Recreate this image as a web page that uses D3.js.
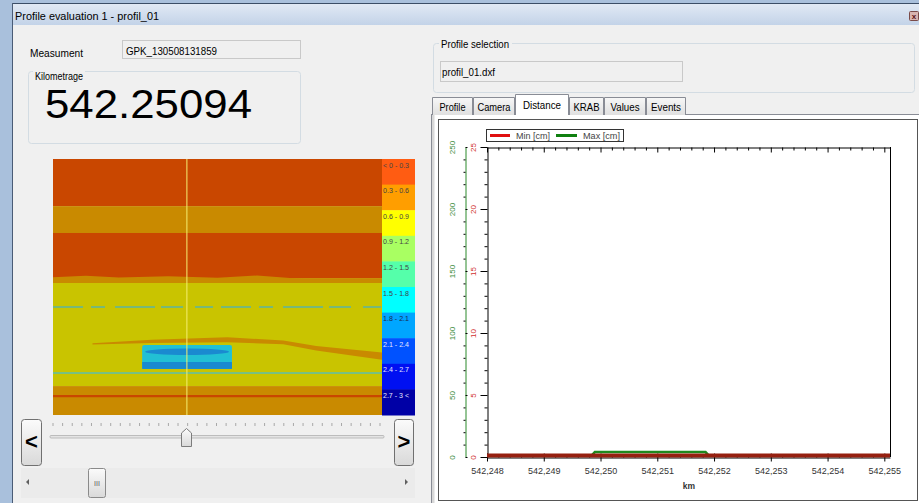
<!DOCTYPE html>
<html><head><meta charset="utf-8">
<script src="https://cdn.jsdelivr.net/npm/d3@7"></script>
<style>
html,body{margin:0;padding:0;background:#f0f0f0;overflow:hidden;}
svg{display:block;font-family:"Liberation Sans",Arial,sans-serif;}
</style></head><body>
<svg id="c" width="919" height="503"></svg>
<script>
// ---------- data ----------
const windowTitle = "Profile evaluation 1 - profil_01";
const measurementLabel = "Measument";
const measurementValue = "GPK_130508131859";
const kilometrageLabel = "Kilometrage";
const kilometrageValue = "542.25094";
const profileSelectionLabel = "Profile selection";
const profileFile = "profil_01.dxf";
const tabNames = ["Profile", "Camera", "Distance", "KRAB", "Values", "Events"];
const activeTab = "Distance";

const legendLabels = ["< 0 - 0.3", "0.3 - 0.6", "0.6 - 0.9", "0.9 - 1.2", "1.2 - 1.5",
                      "1.5 - 1.8", "1.8 - 2.1", "2.1 - 2.4", "2.4 - 2.7", "2.7 - 3 <"];
const legendColors = ["#ff5c12", "#ff9e00", "#ffff00", "#a9ff62", "#55ffaa",
                      "#00ffff", "#00a6ff", "#0052ff", "#0010f2", "#0000a6"];
const heatColors = ["#c94700", "#c98a00", "#c9c400", "#78c080", "#5cb4a0",
                    "#22c0d4", "#1a8ad0", "#0a50c8", "#0010c0", "#000090"];

// heatmap layers (position 0..100 along track, depth 0..100)
const bandTop    = [0, 18.4, 28.9, 46.5, 48.4, 88.7];
const bandBottom = [18.4, 28.9, 46.5, 48.4, 88.7, 100];
const bandClass  = [0, 1, 0, 1, 2, 1];
const streakDepth = [57.8, 83.6, 92.6];
const streakClass = [4, 3, 0];
const wedgePos   = [12, 30, 53, 70, 80, 100, 100, 80, 70, 53, 30, 12];
const wedgeDepth = [72.0, 70.6, 69.6, 70.9, 73.0, 75.6, 78.4, 74.8, 72.4, 71.6, 71.9, 72.5];
const objectPos = [27.1, 54.4];
const objectDepth = [72.7, 82.0];
const cursorPos = 40.7;

// distance chart
const kmTicks = [542.248, 542.249, 542.250, 542.251, 542.252, 542.253, 542.254, 542.255];
const minTicks = [0, 5, 10, 15, 20, 25];
const maxTicks = [0, 50, 100, 150, 200, 250];
const minKm = [542.2480, 542.2485, 542.2490, 542.2495, 542.2500, 542.2505, 542.2510, 542.2515,
               542.2520, 542.2525, 542.2530, 542.2535, 542.2540, 542.2545, 542.2550, 542.2551];
const minValues = [0.12, 0.13, 0.12, 0.12, 0.13, 0.12, 0.12, 0.13,
                   0.12, 0.12, 0.12, 0.13, 0.12, 0.12, 0.12, 0.12];
const maxKm = [542.2480, 542.2490, 542.24985, 542.24990, 542.2505, 542.2510, 542.2515,
               542.25185, 542.25190, 542.2530, 542.2540, 542.2551];
const maxValues = [1.5, 1.5, 1.5, 4.0, 4.0, 4.0, 4.0, 4.0, 1.5, 1.5, 1.5, 1.5];
const seriesNames = ["Min [cm]", "Max [cm]"];

// ---------- drawing ----------
const svg = d3.select("#c");
const defs = svg.append("defs");
function grad(id, c1, c2) {
  const g = defs.append("linearGradient").attr("id", id).attr("x1", 0).attr("y1", 0).attr("x2", 0).attr("y2", 1);
  g.append("stop").attr("offset", "0%").attr("stop-color", c1);
  g.append("stop").attr("offset", "100%").attr("stop-color", c2);
}
grad("titleG", "#e2eaf5", "#c3d3e8");
grad("btnG", "#fbfbfb", "#d9d9d9");
grad("tabG", "#f7f7f7", "#e0e0e0");

function txt(g, x, y, s, size, opt = {}) {
  const t = g.append("text").attr("x", x).attr("y", y).text(s)
    .attr("font-size", size).attr("fill", opt.fill || "#000");
  if (opt.len) t.attr("textLength", opt.len).attr("lengthAdjust", "spacingAndGlyphs");
  if (opt.anchor) t.attr("text-anchor", opt.anchor);
  if (opt.weight) t.attr("font-weight", opt.weight);
  return t;
}

// window chrome
svg.append("rect").attr("width", 919).attr("height", 503).attr("fill", "#a9c0dc");
svg.append("rect").attr("x", 12).attr("y", 3).attr("width", 907).attr("height", 22).attr("fill", "url(#titleG)");
svg.append("rect").attr("x", 13).attr("y", 25).attr("width", 906).attr("height", 478).attr("fill", "#f0f0f0");
svg.append("line").attr("x1", 12).attr("x2", 919).attr("y1", 3.5).attr("y2", 3.5).attr("stroke", "#3b4d66");
svg.append("line").attr("x1", 12.5).attr("x2", 12.5).attr("y1", 3).attr("y2", 503).attr("stroke", "#4a5c76");
txt(svg, 15, 20, windowTitle, 11, { len: 144 });
svg.append("rect").attr("x", 909.5).attr("y", 11.5).attr("width", 9).attr("height", 9).attr("rx", 1)
  .attr("fill", "#d8b4b0").attr("stroke", "#7a4a48");
txt(svg, 914, 19, "x", 8, { anchor: "middle", fill: "#5a1010", weight: "bold" });

// left panel
txt(svg, 30, 57, measurementLabel, 10.5, { len: 53 });
svg.append("rect").attr("x", 122.5).attr("y", 40.5).attr("width", 178).attr("height", 18)
  .attr("fill", "#f0f0f0").attr("stroke", "#c9c9c9");
txt(svg, 126, 55, measurementValue, 10.5, { len: 91 });
svg.append("rect").attr("x", 28.5).attr("y", 71.5).attr("width", 272).attr("height", 72).attr("rx", 3)
  .attr("fill", "none").attr("stroke", "#d3dce3");
svg.append("rect").attr("x", 33).attr("y", 68).attr("width", 52).attr("height", 8).attr("fill", "#f0f0f0");
txt(svg, 35, 80, kilometrageLabel, 10.5, { len: 48 });
txt(svg, 45, 118, kilometrageValue, 40, { len: 207 });

// heatmap (profile view)
const hx = d3.scaleLinear([0, 100], [53, 382]);
const hy = d3.scaleLinear([0, 100], [159, 415]);
const heat = svg.append("g");
heat.selectAll("rect.band").data(bandClass).join("rect").attr("class", "band")
  .attr("x", hx(0)).attr("width", hx(100) - hx(0))
  .attr("y", (d, i) => hy(bandTop[i])).attr("height", (d, i) => hy(bandBottom[i]) - hy(bandTop[i]))
  .attr("fill", d => heatColors[d]);
// ragged edge of red band
heat.append("path").attr("fill", heatColors[1])
  .attr("d", d3.line()([[hx(0), hy(46.2)], [hx(10), hy(45.6)], [hx(20), hy(46.3)], [hx(35), hy(45.8)], [hx(50), hy(46.4)],
    [hx(62), hy(45.5)], [hx(75), hy(46.8)], [hx(90), hy(47.3)], [hx(100), hy(47.0)], [hx(100), hy(48.4)], [hx(0), hy(48.4)]]));
heat.selectAll("line.streak").data(streakClass).join("line").attr("class", "streak")
  .attr("x1", hx(0)).attr("x2", hx(100))
  .attr("y1", (d, i) => hy(streakDepth[i])).attr("y2", (d, i) => hy(streakDepth[i]))
  .attr("stroke", d => heatColors[d])
  .attr("stroke-width", (d, i) => i === 0 ? 1.6 : 2.2)
  .attr("stroke-dasharray", (d, i) => i === 0 ? "30,8,14,10,40,6,22,12,18,8" : null);
heat.append("path").attr("fill", heatColors[1])
  .attr("d", d3.line()(wedgePos.map((p, i) => [hx(p), hy(wedgeDepth[i])])) + "Z");
// object
heat.append("rect").attr("x", hx(objectPos[0])).attr("width", hx(objectPos[1]) - hx(objectPos[0]))
  .attr("y", hy(objectDepth[0])).attr("height", hy(objectDepth[1]) - hy(objectDepth[0]))
  .attr("rx", 2).attr("fill", heatColors[5]);
heat.append("ellipse").attr("cx", hx((objectPos[0] + objectPos[1]) / 2)).attr("cy", hy(75.3))
  .attr("rx", (hx(objectPos[1]) - hx(objectPos[0])) / 2 - 3).attr("ry", 3.2).attr("fill", heatColors[6]);
heat.append("rect").attr("x", hx(objectPos[0])).attr("width", hx(objectPos[1]) - hx(objectPos[0]))
  .attr("y", hy(79.3)).attr("height", hy(82.0) - hy(79.3)).attr("fill", heatColors[6]);
heat.append("line").attr("x1", hx(cursorPos)).attr("x2", hx(cursorPos)).attr("y1", hy(0)).attr("y2", hy(100))
  .attr("stroke", "#f4ee70").attr("stroke-width", 1);

// heatmap legend
const ly = d3.scaleBand(legendLabels, [159, 415]);
const leg = svg.append("g");
leg.selectAll("rect").data(legendLabels).join("rect")
  .attr("x", 382).attr("width", 33).attr("y", d => ly(d)).attr("height", ly.bandwidth() + 0.5)
  .attr("fill", (d, i) => legendColors[i]);
leg.selectAll("text").data(legendLabels).join("text")
  .attr("x", 383).attr("y", d => ly(d) + 8.5).text(d => d)
  .attr("font-size", 7.5).attr("fill", (d, i) => i >= 7 ? "#e4e4ff" : (i >= 6 ? "#1a2a50" : "#444"))
  .attr("textLength", 26).attr("lengthAdjust", "spacingAndGlyphs");

// slider
function button(x, y, w, h, label) {
  svg.append("rect").attr("x", x + 0.5).attr("y", y + 0.5).attr("width", w).attr("height", h).attr("rx", 3)
    .attr("fill", "url(#btnG)").attr("stroke", "#707070");
  txt(svg, x + w / 2 + 0.5, y + h / 2 + 7, label, 22, { anchor: "middle", weight: "bold" });
}
button(21, 419, 20, 46, "<");
button(394, 419, 19, 46, ">");
const sx = d3.scaleLinear([0, 34], [53, 380]);
svg.append("g").selectAll("line").data(d3.range(35)).join("line")
  .attr("x1", d => sx(d)).attr("x2", d => sx(d)).attr("y1", 423).attr("y2", 426)
  .attr("stroke", "#a8a8a8");
svg.append("rect").attr("x", 50).attr("y", 435.5).attr("width", 334).attr("height", 2.5).attr("rx", 1)
  .attr("fill", "#e4e4e4").attr("stroke", "#b0b0b0").attr("stroke-width", 0.8);
svg.append("path").attr("d", "M181.5,433 L186.5,428.5 L191.5,433 L191.5,446.5 L181.5,446.5 Z")
  .attr("fill", "url(#btnG)").attr("stroke", "#7c7c7c");
// scrollbar
svg.append("rect").attr("x", 21).attr("y", 468).attr("width", 394).attr("height", 30).attr("fill", "#ebebeb");
svg.append("path").attr("d", "M29,479 L26,482 L29,485 Z").attr("fill", "#606060");
svg.append("path").attr("d", "M405,479 L408,482 L405,485 Z").attr("fill", "#606060");
svg.append("rect").attr("x", 88.5).attr("y", 468.5).attr("width", 17).attr("height", 29).attr("rx", 2)
  .attr("fill", "url(#btnG)").attr("stroke", "#8a8a8a");
txt(svg, 97, 486, "III", 7, { anchor: "middle", fill: "#555" });

// right panel
svg.append("rect").attr("x", 433.5).attr("y", 43.5).attr("width", 481).attr("height", 49).attr("rx", 3)
  .attr("fill", "none").attr("stroke", "#d3dce3");
svg.append("rect").attr("x", 439).attr("y", 38).attr("width", 73).attr("height", 10).attr("fill", "#f0f0f0");
txt(svg, 441, 48, profileSelectionLabel, 10.5, { len: 68 });
svg.append("rect").attr("x", 440.5).attr("y", 61.5).attr("width", 242).attr("height", 20)
  .attr("fill", "#f0f0f0").attr("stroke", "#c9c9c9");
txt(svg, 442, 76, profileFile, 10.5, { len: 53 });

// tab panel
svg.append("rect").attr("x", 431.5).attr("y", 114.5).attr("width", 488).attr("height", 390)
  .attr("fill", "#ffffff").attr("stroke", "#898c95");
svg.append("rect").attr("x", 432).attr("y", 115).attr("width", 2.5).attr("height", 388).attr("fill", "#d8d8d8");
const tabEdges = [432, 473, 515, 569, 604, 646, 686];
const tabTextLen = [26, 33, 38, 26, 29, 30];
const tabs = svg.append("g");
tabNames.forEach((n, i) => {
  const act = n === activeTab;
  const x0 = tabEdges[i], x1 = tabEdges[i + 1];
  const y0 = act ? 94 : 97;
  tabs.append("path")
    .attr("d", `M${x0 + 0.5},115 L${x0 + 0.5},${y0 + 0.5} L${x1 - 0.5},${y0 + 0.5} L${x1 - 0.5},115`)
    .attr("fill", act ? "#ffffff" : "url(#tabG)").attr("stroke", "#898c95");
  txt(tabs, (x0 + x1) / 2, act ? 109 : 111, n, 10.5, { anchor: "middle", len: tabTextLen[i] });
});
svg.append("rect").attr("x", 516).attr("y", 113).attr("width", 52).attr("height", 3).attr("fill", "#ffffff");
svg.append("rect").attr("x", 438.5).attr("y", 119.5).attr("width", 479).attr("height", 381)
  .attr("fill", "#ffffff").attr("stroke", "#555555");

// distance chart
const x = d3.scaleLinear([542.248, 542.2551], [487, 890]);
const yMin = d3.scaleLinear([0, 25], [457, 147]);
const yMax = d3.scaleLinear([0, 250], [457, 147]);
const loc = d3.formatLocale({ decimal: ",", thousands: ".", grouping: [3], currency: ["", ""] });
const fmtKm = loc.format(".3f");
const minorKm = d3.range(542.248, 542.2551, 0.0002).filter(v => !kmTicks.some(t => Math.abs(t - v) < 1e-7));
const chart = svg.append("g").attr("font-family", '"Liberation Sans",Arial,sans-serif');

// plot frame
chart.append("line").attr("x1", 890.5).attr("x2", 890.5).attr("y1", 147).attr("y2", 457).attr("stroke", "#000");

// top axis
const topAx = chart.append("g").attr("transform", "translate(0,147.5)")
  .call(d3.axisBottom(x).tickValues(kmTicks).tickSize(5).tickSizeOuter(0).tickFormat(""));
topAx.append("g").call(d3.axisBottom(x).tickValues(minorKm).tickSize(3).tickSizeOuter(0).tickFormat(""))
  .select(".domain").remove();

// bottom axis
const botAx = chart.append("g").attr("transform", "translate(0,457.5)")
  .call(d3.axisBottom(x).tickValues(kmTicks).tickSize(4).tickSizeOuter(0).tickFormat(fmtKm));
botAx.selectAll(".tick line").attr("y1", -4);
botAx.selectAll(".tick text").attr("y", 10).attr("font-size", 9).attr("fill", "#333")
  .attr("font-family", '"Liberation Sans",Arial,sans-serif');
botAx.append("g").call(d3.axisTop(x).tickValues(minorKm).tickSize(3).tickSizeOuter(0).tickFormat(""))
  .select(".domain").remove();
txt(chart, 689, 489, "km", 8.5, { anchor: "middle", weight: "bold", fill: "#333" });

// red (Min) axis
const minorMin = d3.range(0, 26, 1).filter(v => v % 5 !== 0);
const redAx = chart.append("g").attr("transform", "translate(487.5,0)")
  .call(d3.axisLeft(yMin).tickValues(minTicks).tickSize(7).tickSizeOuter(0));
redAx.append("g").call(d3.axisLeft(yMin).tickValues(minorMin).tickSize(3).tickSizeOuter(0).tickFormat(""))
  .select(".domain").remove();
redAx.selectAll(".tick text").attr("transform", "rotate(-90)").attr("x", 0).attr("y", -12).attr("dy", 0)
  .attr("text-anchor", "middle").attr("font-size", 8).attr("fill", "#d03030")
  .attr("font-family", '"Liberation Sans",Arial,sans-serif');

// green (Max) axis
const minorMax = d3.range(0, 251, 10).filter(v => v % 50 !== 0);
const greenAx = chart.append("g").attr("transform", "translate(465.5,0)")
  .call(d3.axisLeft(yMax).tickValues(maxTicks).tickSize(4).tickSizeOuter(0));
greenAx.selectAll(".tick line").attr("x2", 2);
greenAx.select(".domain").attr("stroke", "#2a8a2a");
greenAx.append("g").call(d3.axisLeft(yMax).tickValues(minorMax).tickSize(2).tickSizeOuter(0).tickFormat(""))
  .select(".domain").remove();
greenAx.selectAll(".tick text").attr("transform", "rotate(-90)").attr("x", 0).attr("y", -11).attr("dy", 0)
  .attr("text-anchor", "middle").attr("font-size", 8).attr("fill", "#3a8a3a")
  .attr("font-family", '"Liberation Sans",Arial,sans-serif');

// series
const lineMax = d3.line().x((d, i) => x(maxKm[i])).y(d => yMax(d));
const lineMin = d3.line().x((d, i) => x(minKm[i])).y(d => yMin(d));
chart.append("path").attr("d", lineMax(maxValues)).attr("fill", "none")
  .attr("stroke", "#1e8a1e").attr("stroke-width", 2.5);
chart.append("path").attr("d", lineMin(minValues)).attr("fill", "none")
  .attr("stroke", "#962010").attr("stroke-width", 4);

// legend
const lg = chart.append("g");
lg.append("rect").attr("x", 486.5).attr("y", 129.5).attr("width", 137).attr("height", 12)
  .attr("fill", "#fff").attr("stroke", "#333");
lg.append("line").attr("x1", 490).attr("x2", 510).attr("y1", 135.5).attr("y2", 135.5)
  .attr("stroke", "#e01010").attr("stroke-width", 3);
txt(lg, 516, 139, seriesNames[0], 9, { fill: "#444", len: 34 });
lg.append("line").attr("x1", 556).attr("x2", 577).attr("y1", 135.5).attr("y2", 135.5)
  .attr("stroke", "#108010").attr("stroke-width", 3);
txt(lg, 583, 139, seriesNames[1], 9, { fill: "#444", len: 37 });
</script>
</body></html>
